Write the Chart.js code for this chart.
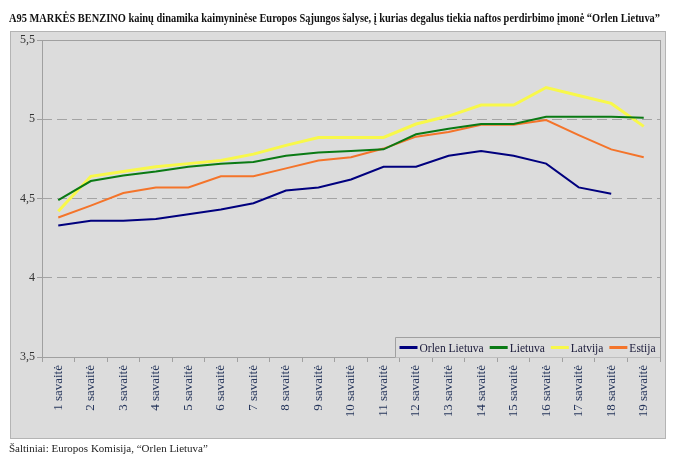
<!DOCTYPE html>
<html>
<head>
<meta charset="utf-8">
<script src="https://cdn.jsdelivr.net/npm/chart.js@4/dist/chart.umd.min.js"></script>
<style>
html,body{margin:0;padding:0;background:#fff;}
canvas{display:block;}
</style>
</head>
<body>
<canvas id="c" width="680" height="460"></canvas>
<script>
const weeks = ["1 savaitė","2 savaitė","3 savaitė","4 savaitė","5 savaitė","6 savaitė","7 savaitė","8 savaitė","9 savaitė","10 savaitė","11 savaitė","12 savaitė","13 savaitė","14 savaitė","15 savaitė","16 savaitė","17 savaitė","18 savaitė","19 savaitė"];
const orlenLietuva = [4.33,4.36,4.36,4.37,4.40,4.43,4.47,4.55,4.57,4.62,4.70,4.70,4.77,4.80,4.77,4.72,4.57,4.53,null];
const lietuva = [4.49,4.61,4.645,4.67,4.70,4.72,4.73,4.77,4.79,4.80,4.81,4.905,4.94,4.97,4.97,5.015,5.015,5.015,5.01];
const latvija = [4.42,4.64,4.67,4.70,4.72,4.74,4.78,4.835,4.885,4.885,4.885,4.97,5.02,5.09,5.09,5.20,5.15,5.10,4.955];
const estija = [4.38,4.455,4.535,4.57,4.57,4.64,4.64,4.69,4.74,4.76,4.815,4.89,4.92,4.965,4.965,4.995,4.90,4.81,4.76];
const seriesNames = ["Orlen Lietuva","Lietuva","Latvija","Estija"];
const yTicks = [3.5,4,4.5,5,5.5];
const titleText = "A95 MARKĖS BENZINO kainų dinamika kaimyninėse Europos Sąjungos šalyse, į kurias degalus tiekia naftos perdirbimo įmonė “Orlen Lietuva”";
const sourceText = "Šaltiniai: Europos Komisija, “Orlen Lietuva”";

const SERIF = "'Liberation Serif','Times New Roman',serif";
const BG = '#dcdcdc';

const panelPlugin = {
  id: 'panel',
  beforeDraw(chart) {
    const ctx = chart.ctx;
    ctx.save();
    ctx.fillStyle = '#ffffff';
    ctx.fillRect(0,0,chart.width,chart.height);
    ctx.fillStyle = BG;
    ctx.fillRect(10.5,31.5,655,407);
    ctx.strokeStyle = '#b4b4b4';
    ctx.lineWidth = 1;
    ctx.strokeRect(10.5,31.5,655,407);
    ctx.restore();
  },
  beforeDatasetsDraw(chart) {
    const ctx = chart.ctx, a = chart.chartArea;
    ctx.save();
    ctx.strokeStyle = '#a0a0a0';
    ctx.lineWidth = 1;
    ctx.strokeRect(Math.round(a.left)+0.5, Math.round(a.top)+0.5, Math.round(a.right-a.left), Math.round(a.bottom-a.top));
    ctx.restore();
  },
  afterDatasetsDraw(chart) {
    const ctx = chart.ctx, a = chart.chartArea;
    ctx.save();
    ctx.font = "11.5px " + SERIF;
    const sample = 18, gap = 2, itemGap = 6, padL = 4, padR = 5;
    const items = chart.data.datasets.map(d => ({label: d.label, color: d.borderColor, w: ctx.measureText(d.label).width}));
    let total = padL + padR;
    items.forEach((it,i) => { total += sample + gap + it.w + (i < items.length-1 ? itemGap : 0); });
    const h = 20;
    const x0 = Math.round(a.right - total) + 0.5;
    const y0 = Math.round(a.bottom - h) + 0.5;
    ctx.fillStyle = BG;
    ctx.fillRect(x0, y0, a.right - x0, h);
    ctx.strokeStyle = '#a0a0a0';
    ctx.lineWidth = 1;
    ctx.beginPath();
    ctx.moveTo(x0, a.bottom); ctx.lineTo(x0, y0); ctx.lineTo(a.right, y0);
    ctx.stroke();
    let x = x0 + padL;
    const cy = y0 + h/2;
    items.forEach(it => {
      ctx.strokeStyle = it.color;
      ctx.lineWidth = 3;
      ctx.beginPath(); ctx.moveTo(x, cy); ctx.lineTo(x + sample, cy); ctx.stroke();
      x += sample + gap;
      ctx.fillStyle = '#1a1a3a';
      ctx.textBaseline = 'middle';
      ctx.fillText(it.label, x, cy + 1);
      x += it.w + itemGap;
    });
    ctx.restore();
  }
};

new Chart(document.getElementById('c'), {
  type: 'line',
  data: {
    labels: weeks,
    datasets: [
      {label: seriesNames[0], data: orlenLietuva, borderColor: '#00007e', borderWidth: 2},
      {label: seriesNames[1], data: lietuva, borderColor: '#0a7a14', borderWidth: 2},
      {label: seriesNames[2], data: latvija, borderColor: '#f8f84a', borderWidth: 3},
      {label: seriesNames[3], data: estija, borderColor: '#f4742a', borderWidth: 2}
    ]
  },
  options: {
    responsive: false,
    animation: false,
    devicePixelRatio: 1,
    elements: {point: {radius: 0}, line: {tension: 0, fill: false}},
    layout: {padding: {left: 9, right: 20, top: 0, bottom: 0}},
    plugins: {
      legend: {display: false},
      tooltip: {enabled: false},
      title: {
        display: true, text: titleText, align: 'start', color: '#111',
        font: {family: SERIF, size: 12, weight: 'bold', lineHeight: 1.2},
        padding: {top: 11.5, bottom: 14.1}
      },
      subtitle: {
        display: true, text: sourceText, position: 'bottom', align: 'start', color: '#222',
        font: {family: SERIF, size: 11, lineHeight: 1.2},
        padding: {top: 4, bottom: 4}
      }
    },
    scales: {
      x: {
        offset: true,
        afterFit(s) { s.height = 81.8; },
        grid: {offset: true, drawOnChartArea: false, drawTicks: true, tickLength: 5, color: '#a0a0a0'},
        border: {display: false},
        ticks: {
          minRotation: 90, maxRotation: 90, autoSkip: false, padding: 3,
          color: '#24345a', font: {family: SERIF, size: 13}
        }
      },
      y: {
        min: 3.5, max: 5.5,
        afterFit(s) { s.width = 33; },
        afterBuildTicks(s) { s.ticks = yTicks.map(v => ({value: v})); },
        grid: {color: '#a4a4a4', tickColor: '#a0a0a0', tickLength: 5, tickBorderDash: [], lineWidth: 1},
        border: {display: false, dash: [10, 5]},
        ticks: {
          padding: 2, color: '#333',
          font: {family: SERIF, size: 12},
          callback: v => String(v).replace('.', ',')
        }
      }
    }
  },
  plugins: [panelPlugin]
});
</script>
</body>
</html>
